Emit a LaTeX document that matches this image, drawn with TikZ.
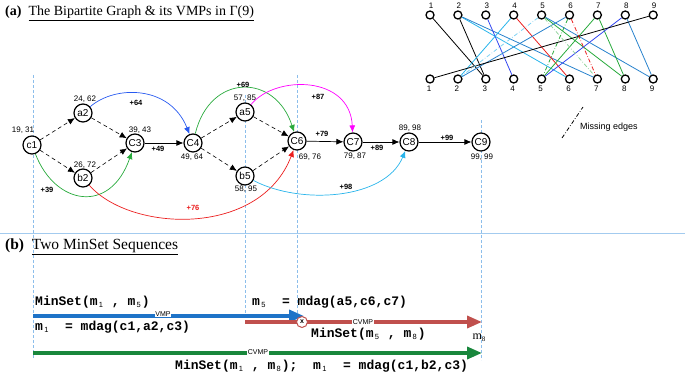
\documentclass[tikz,border=0pt]{standalone}
\usepackage{fontspec}
\setmainfont{Liberation Serif}
\setsansfont{Liberation Sans}
\setmonofont{Liberation Mono}
\usetikzlibrary{arrows.meta}
\definecolor{guideblue}{RGB}{140,190,235}
\definecolor{vmpblue}{RGB}{30,115,200}
\definecolor{cvmpred}{RGB}{192,80,77}
\definecolor{cvmpgreen}{RGB}{25,135,60}
\definecolor{skyblue}{RGB}{40,180,235}
\definecolor{steelblue}{RGB}{40,130,205}
\definecolor{royalblue}{RGB}{50,70,240}
\definecolor{curvegreen}{RGB}{40,170,60}
\definecolor{curvemagenta}{RGB}{255,0,255}
\definecolor{curvered}{RGB}{235,30,30}
\definecolor{curveblue}{RGB}{40,90,240}
\newcommand{\msub}[1]{m\makebox[6.5pt][l]{\raisebox{-2.5pt}{\fontsize{7.5}{7.5}\selectfont\sffamily\mdseries\,#1}}}

\begin{document}
\begin{tikzpicture}[x=1pt,y=-1pt,
  vnode/.style={circle, draw, fill=white, line width=1.2pt, minimum size=18pt, inner sep=0pt, font=\sffamily\fontsize{10}{10}\selectfont},
  bnode/.style={circle, draw, fill=white, line width=1.3pt, minimum size=8pt, inner sep=0pt},
  bnum/.style={font=\sffamily\fontsize{8}{8}\selectfont},
  cost/.style={font=\sffamily\fontsize{8}{8}\selectfont},
  wt/.style={font=\sffamily\bfseries\fontsize{7.5}{7.5}\selectfont},
  dedge/.style={-{Latex[length=7pt,width=6pt]}, dash pattern=on 4pt off 3pt, line width=0.6pt},
  sedge/.style={-{Latex[length=7pt,width=6pt]}, line width=0.7pt},
  cedge/.style={-{Latex[length=7pt,width=6pt]}, line width=0.7pt},
  guide/.style={guideblue, dash pattern=on 3pt off 2pt, line width=0.5pt},
  miss/.style={line width=0.8pt, dash pattern=on 4pt off 2pt on 0.6pt off 2pt},
  code/.style={font=\ttfamily\bfseries\fontsize{13}{13}\selectfont, anchor=west, inner sep=0pt},
  seqlabel/.style={font=\sffamily\fontsize{7}{7}\selectfont, fill=white, inner sep=0.6pt},
  fat/.style={line width=3.5pt, -{Triangle[length=15pt,width=12pt]}},
  heading/.style={font=\fontsize{14}{14}\selectfont, anchor=west, inner sep=0pt},
]
\useasboundingbox (0,0) rectangle (685,374);

% guides and separator
\draw[guide] (33,75) -- (33,358);
\draw[guide] (245,95) -- (245,322);
\draw[guide] (297,75) -- (297,316);
\draw[guide] (481,120) -- (481,360);
\draw[guideblue!80, line width=1pt] (0,233) -- (685,233);

% (a)
\node[heading] (ta) at (5,13) {\textbf{(a)}\enspace\underline{The Bipartite Graph \& its VMPs in Γ(9)}};

\node[vnode] (c1) at (32,145) {c1};
\node[vnode] (a2) at (83,113) {a2};
\node[vnode] (b2) at (83,178) {b2};
\node[vnode] (C3) at (135,143) {C3};
\node[vnode] (C4) at (193,143) {C4};
\node[vnode] (a5) at (245,112) {a5};
\node[vnode] (b5) at (245,176) {b5};
\node[vnode] (C6) at (297,141) {C6};
\node[vnode] (C7) at (353,142) {C7};
\node[vnode] (C8) at (409,142) {C8};
\node[vnode] (C9) at (481,142) {C9};

\node[cost] at (23,130) {19, 31};
\node[cost] at (85,99) {24, 62};
\node[cost] at (85,165) {26, 72};
\node[cost] at (140,130) {39, 43};
\node[cost] at (192,157) {49, 64};
\node[cost] at (245,98) {57, 85};
\node[cost] at (246,189) {58, 95};
\node[cost] at (310,157) {69, 76};
\node[cost] at (355,156) {79, 87};
\node[cost] at (410,128) {89, 98};
\node[cost] at (482,157) {99, 99};

\draw[dedge] (c1) -- (a2);
\draw[dedge] (c1) -- (b2);
\draw[dedge] (a2) -- (C3);
\draw[dedge] (b2) -- (C3);
\draw[dedge] (C4) -- (a5);
\draw[dedge] (C4) -- (b5);
\draw[dedge] (a5) -- (C6);
\draw[dedge] (b5) -- (C6);
\draw[sedge] (C3) -- (C4);
\draw[sedge] (C6) -- (C7);
\draw[sedge] (C7) -- (C8);
\draw[sedge] (C8) -- (C9);

\draw[cedge, curveblue] (a2) .. controls (115,85) and (170,85) .. (C4);
\draw[cedge, curvegreen] (c1) .. controls (55,205) and (110,215) .. (C3);
\draw[cedge, curvered] (b2) .. controls (130,232) and (260,238) .. (C6);
\draw[cedge, curvegreen] (C4) .. controls (210,73) and (275,73) .. (C6);
\draw[cedge, curvemagenta] (a5) .. controls (275,75) and (350,75) .. (C7);
\draw[cedge, skyblue] (b5) .. controls (300,205) and (385,200) .. (C8);

\node[wt] at (136,103) {+64};
\node[wt] at (47,190) {+39};
\node[wt] at (158,149) {+49};
\node[wt, curvered] at (193,208) {+76};
\node[wt] at (243,85) {+69};
\node[wt] at (318,97) {+87};
\node[wt] at (322,134) {+79};
\node[wt] at (377,148) {+89};
\node[wt] at (447,138) {+99};
\node[wt] at (346,187) {+98};

% bipartite graph
\foreach \i in {1,...,9} {
  \node[bnode] (t\i) at ({430+27.9*(\i-1)},15) {};
  \node[bnode] (d\i) at ({430+27.9*(\i-1)},79) {};
  \node[bnum] at ({431+27.9*(\i-1)},6) {\i};
  \node[bnum] at ({429+27.9*(\i-1)},89) {\i};
}
\foreach \a/\b/\c in {1/3/black, 2/3/black, 2/6/skyblue, 2/7/steelblue, 3/4/royalblue,
    4/2/skyblue, 4/6/curvered, 5/8/curvegreen, 5/9/steelblue, 6/2/steelblue,
    7/5/curvegreen, 7/8/curvegreen, 8/5/royalblue, 8/9/steelblue, 9/1/black}
  \draw[\c, line width=0.8pt] (t\a) -- (d\b);
\foreach \a/\b/\c in {5/2/skyblue!60, 5/7/curvegreen!50, 6/5/curvegreen, 6/7/curvered}
  \draw[\c, miss] (t\a) -- (d\b);

\draw[miss, black] (562,138) -- (583,107);
\node[font=\sffamily\fontsize{9}{9}\selectfont, anchor=west, inner sep=0pt] (miss) at (580,127) {Missing edges};

% (b)
\node[heading, font=\fontsize{15.5}{15.5}\selectfont] (tb) at (5,247) {\textbf{(b)}\enspace\underline{Two MinSet Sequences}};

\coordinate (vmpS) at (33,316);
\coordinate (vmpE) at (304,316);
\coordinate (redS) at (245,322);
\coordinate (redE) at (482,322);
\coordinate (grnS) at (33,353);
\coordinate (grnE) at (482,353);

\draw[fat, vmpblue] (vmpS) -- (vmpE);
\draw[fat, cvmpred] (redS) -- (redE);
\draw[fat, cvmpgreen] (grnS) -- (grnE);
\node[circle, draw=cvmpred, fill=white, line width=1pt, minimum size=11pt, inner sep=0pt,
  font=\sffamily\bfseries\fontsize{7}{7}\selectfont] (cut) at (302,322) {x};

\node[seqlabel] at (163,314) {VMP};
\node[seqlabel] at (363,322) {CVMP};
\node[seqlabel] at (258,352) {CVMP};

\node[code] (s1) at (35,302) {MinSet(\msub{1} , \msub{5})};
\node[code] (s2) at (35,327) {\msub{1}~ = mdag(c1,a2,c3)};
\node[code] (s3) at (252,302) {\msub{5}~ = mdag(a5,c6,c7)};
\node[code] (s4) at (311,334) {MinSet(\msub{5} , \msub{8})};
\node[code] (s5) at (175,366) {MinSet(\msub{1} , \msub{8});};
\node[code] (s6) at (313,366) {\msub{1}~ = mdag(c1,b2,c3)};
\node[font=\fontsize{12}{12}\selectfont, inner sep=0pt] (m8) at (479,338) {m\raisebox{-2pt}{\fontsize{7}{7}\selectfont 8}};
\end{tikzpicture}
\end{document}
